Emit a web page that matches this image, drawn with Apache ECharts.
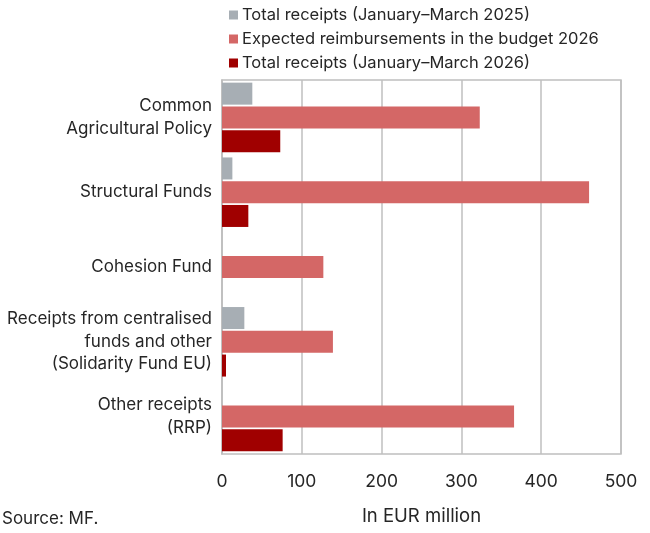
<!DOCTYPE html>
<html lang="en">
<head>
    <meta charset="UTF-8">
    <title>EU receipts</title>
    <script src="https://cdn.jsdelivr.net/npm/echarts@6/dist/echarts.min.js"></script>
    <style>
        body{ margin:0; background:#fff; }
        #main{ width:650px; height:533px; }
    </style>
</head>
<body>
<div id="main"></div>
<script type="text/javascript">
    var categories = [
        'Common\nAgricultural Policy',
        'Structural Funds',
        'Cohesion Fund',
        'Receipts from centralised\nfunds and other\n(Solidarity Fund EU)',
        'Other receipts\n(RRP)'
    ];
    var seriesNames = [
        'Total receipts (January\u2013March 2025)',
        'Expected reimbursements in the budget 2026',
        'Total receipts (January\u2013March 2026)'
    ];
    var receipts2025 = [38, 13, null, 28, null];
    var expected2026 = [323, 460, 127, 139, 366];
    var receipts2026 = [73, 33, null, 5, 76];
    var xTicks = [0, 100, 200, 300, 400, 500];

    var font = 'Inter, "Noto Sans", sans-serif';
    var colors = ['#a7aeb4', '#d46766', '#a00000'];
    var seriesData = [receipts2025, expected2026, receipts2026];

    var myChart = echarts.init(document.getElementById('main'));

    var series = [];
    for (var i = 0; i < seriesNames.length; i++) {
        series.push({
            name: seriesNames[i],
            type: 'bar',
            barWidth: 22,
            barGap: '8%',
            itemStyle: {color: colors[i]},
            data: seriesData[i]
        });
    }

    var option = {
        animation: false,
        textStyle: {fontFamily: font},
        legend: {
            orient: 'vertical',
            left: 224,
            top: 0,
            itemWidth: 9,
            itemHeight: 9,
            itemGap: 4,
            icon: 'rect',
            textStyle: {fontFamily: font, fontSize: 16.5, color: '#262626', lineHeight: 20, padding: [0, 0, 0, -1]},
            data: seriesNames
        },
        grid: {
            left: 222,
            right: 29,
            top: 80,
            bottom: 79,
            show: true,
            borderColor: '#bfbfbf',
            borderWidth: 1.5
        },
        xAxis: {
            type: 'value',
            min: xTicks[0],
            max: xTicks[xTicks.length - 1],
            interval: 100,
            name: 'In EUR million',
            nameLocation: 'middle',
            nameGap: 53,
            nameTextStyle: {fontSize: 18.5, color: '#262626', fontFamily: font},
            axisLine: {show: false},
            axisTick: {show: false},
            axisLabel: {fontSize: 17.5, color: '#262626', margin: 19, fontFamily: font},
            splitLine: {lineStyle: {color: '#bfbfbf', width: 1.5}}
        },
        yAxis: {
            type: 'category',
            inverse: true,
            data: categories,
            axisLine: {lineStyle: {color: '#bfbfbf', width: 1.5}},
            axisTick: {inside: true, length: 5, lineStyle: {color: '#bfbfbf', width: 1.5}},
            axisLabel: {fontSize: 17, color: '#262626', lineHeight: 22.5, margin: 10, align: 'right', fontFamily: font}
        },
        graphic: [{
            type: 'text',
            left: 2,
            top: 510,
            style: {text: 'Source: MF.', font: '17px ' + font, fill: '#262626'}
        }],
        series: series
    };

    myChart.setOption(option);
</script>
</body>
</html>
